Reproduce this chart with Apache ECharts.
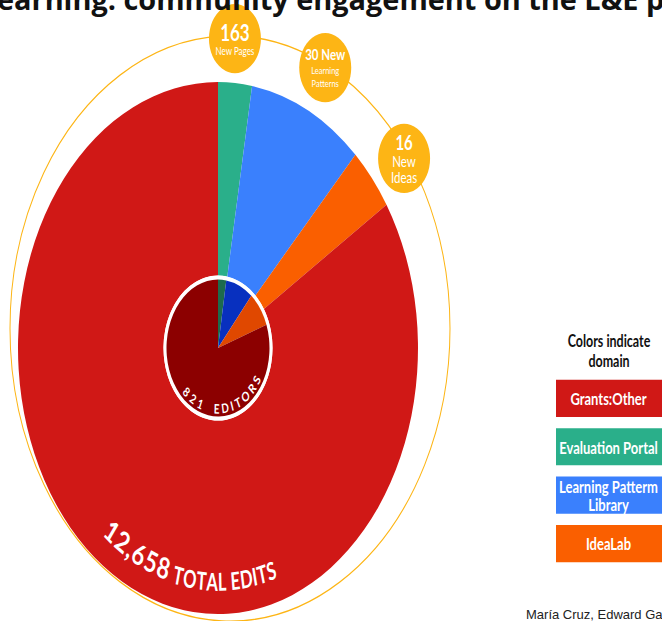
<!DOCTYPE html>
<html><head><meta charset="utf-8">
<script src="https://cdn.jsdelivr.net/npm/echarts@6/dist/echarts.min.js"></script>
<style>
html,body{margin:0;padding:0;overflow:hidden;background:#fff;width:662px;height:621px}
#wrap{width:662px;height:621px;overflow:hidden;position:relative}
#chart{width:662px;height:467px;transform:scaleY(1.33);transform-origin:0 0}
</style></head><body><div id="wrap"><div id="chart"></div></div>
<script>
// ---------------- data ----------------
const domainNames = ['Evaluation Portal', 'Learning Pattern Library', 'IdeaLab', 'Grants:Other'];
const edits = [345, 1181, 492, 10640];          // total 12,658 edits
const editors = [21, 71, 68, 661];              // total 821 editors
const legendDomains = ['Grants:Other', 'Evaluation Portal', 'Learning Pattern Library', 'IdeaLab'];
const legendLabels = ['Grants:Other', 'Evaluation Portal', 'Learning Patterm\nLibrary', 'IdeaLab'];
const bubbleRadius = [218, 218, 216];
const bubbleAngle = [1.3, 25.9, 53.7];
const bubbleNumbers = ['163', '30 New', '16'];
const bubbleCaptions = ['New Pages', 'Learning\nPatterns', 'New\nIdeas'];
const titleText = 'Learning: community engagement on the L&E portal';
const legendTitle = ['Colors indicate', 'domain'];
const editsLabel = ['12,658', ' TOTAL EDITS'];
const editorsLabel = ['821', '  EDITORS'];
const footerText = 'María Cruz, Edward Galvez';

// ---------------- styles ----------------
const S = 1.33;
const H = 621 / S;
const PIE_C = [218, 261.7];
const RING_C = [230, 247];
const colorOf = {'Evaluation Portal':'#2aaf8a','Learning Pattern Library':'#3a80fd','IdeaLab':'#fa5f00','Grants:Other':'#d01816'};
const darkOf = {'Evaluation Portal':'#1d6b4d','Learning Pattern Library':'#0830bf','IdeaLab':'#e04800','Grants:Other':'#8c0000'};
const YELLOW = '#fdb515';
const bubbleRich = [
  {num:{fontSize:17, fontWeight:'bold', lineHeight:18}, cap:{fontSize:8, lineHeight:10}},
  {num:{fontSize:11.5, fontWeight:'bold', lineHeight:13}, cap:{fontSize:7.5, lineHeight:10}},
  {num:{fontSize:15, fontWeight:'bold', lineHeight:17}, cap:{fontSize:11.5, lineHeight:12}}
];

const mctx = document.createElement('canvas').getContext('2d');
function arcChars(segs, cx, cy, phiFirstDeg, fill) {
  const items = [];
  segs.forEach(sg => { mctx.font = sg.font; for (const ch of sg.text) items.push({ch, w: mctx.measureText(ch).width, sg}); });
  const out = [];
  let phi = phiFirstDeg * Math.PI / 180 - (items[0].w / 2) / items[0].sg.r;
  items.forEach(it => {
    const r = it.sg.r;
    phi += (it.w / 2) / r;
    if (it.ch !== ' ') out.push({type:'text', z: 100, x: cx + r * Math.sin(phi), y: cy + r * Math.cos(phi), rotation: phi,
      scaleY: it.sg.sy || 1, silent: true,
      style:{text: it.ch, font: it.sg.font, fill, align:'center', verticalAlign:'middle'}});
    phi += (it.w / 2 + it.sg.sp) / r;
  });
  return out;
}

const TITLE_FONT = 'bold 28.9px "Open Sans"';
mctx.font = TITLE_FONT;
const titleX = -mctx.measureText('L').width - 3;

const graphics = [];
graphics.push({type:'text', z: 100, x: titleX, y: -0.9, scaleY: 1 / S, silent:true, style:{text: titleText, font: TITLE_FONT, fill:'#111', verticalAlign:'middle'}});
legendTitle.forEach((t, i) => graphics.push({type:'text', z: 100, x: 609, y: 256 + i * 14.7, silent:true,
  style:{text: t, font:'bold 12.5px Lato', fill:'#111', align:'center', verticalAlign:'middle'}}));
legendDomains.forEach((d, i) => {
  const y = 285.5 + i * 36.4;
  graphics.push({type:'rect', z: 90, silent:true, shape:{x:556, y:y, width:110, height:28}, style:{fill: colorOf[d]}});
  graphics.push({type:'text', z: 100, x: 608.5, y: y + 14, silent:true,
    style:{text: legendLabels[i], font:'bold 13px Lato', fill:'#fff', align:'center', verticalAlign:'middle', lineHeight:13}});
});
arcChars([{text: editsLabel[0], font:'bold 22px Lato', r:173.5, sp:0.5}, {text: editsLabel[1], font:'bold 16.5px Lato', r:175, sp:0, sy:1.12}],
  PIE_C[0], PIE_C[1], -37.6, '#fff').forEach(e => graphics.push(e));
arcChars([{text: editorsLabel[0], font:'bold 9.8px Lato', r:45.4, sp:2.6}, {text: editorsLabel[1], font:'bold 9.8px Lato', r:45.4, sp:1.9}],
  PIE_C[0], PIE_C[1], -43.7, '#fff').forEach(e => graphics.push(e));
graphics.push({type:'text', z: 100, x: 526, y: H, scaleY: 1 / S, silent:true, style:{text: footerText, font:'13px "Liberation Sans"', fill:'#222', verticalAlign:'bottom'}});

const chart = echarts.init(document.getElementById('chart'), null, {renderer:'svg'});
chart.setOption({
  animation: false,
  polar: {center: RING_C, radius: 220},
  angleAxis: {type:'value', min:0, max:360, startAngle:90, clockwise:true,
    axisLine:{show:true, lineStyle:{color: YELLOW, width:1}}, axisTick:{show:false}, axisLabel:{show:false}, splitLine:{show:false}, splitArea:{show:false}},
  radiusAxis: {type:'value', min:0, max:220, axisLine:{show:false}, axisTick:{show:false}, axisLabel:{show:false}, splitLine:{show:false}, splitArea:{show:false}},
  series: [
    {type:'pie', center: PIE_C, radius:[54.5, 200], startAngle:90, clockwise:true, silent:true, label:{show:false}, labelLine:{show:false},
      data: domainNames.map((n, i) => ({name:n, value: edits[i], itemStyle:{color: colorOf[n]}}))},
    {type:'pie', center: PIE_C, radius:[51.5, 54.5], silent:true, label:{show:false}, labelLine:{show:false},
      data: [{name:'ring', value:1, itemStyle:{color:'#fff'}}]},
    {type:'pie', center: PIE_C, radius:[0, 51.5], startAngle:90, clockwise:true, silent:true, label:{show:false}, labelLine:{show:false},
      data: domainNames.map((n, i) => ({name:n, value: editors[i], itemStyle:{color: darkOf[n]}}))},
    {type:'scatter', coordinateSystem:'polar', symbolSize:52, silent:true, z:5, itemStyle:{color: YELLOW, opacity:1},
      data: bubbleRadius.map((r, i) => ({value:[r, bubbleAngle[i]],
        label:{show:true, position:'inside', color:'#fff', fontFamily:'Lato',
          formatter: '{num|' + bubbleNumbers[i] + '}\n' + bubbleCaptions[i].split('\n').map(c => '{cap|' + c + '}').join('\n'),
          rich: bubbleRich[i]}}))}
  ],
  graphic: {elements: graphics}
});
</script></body></html>
